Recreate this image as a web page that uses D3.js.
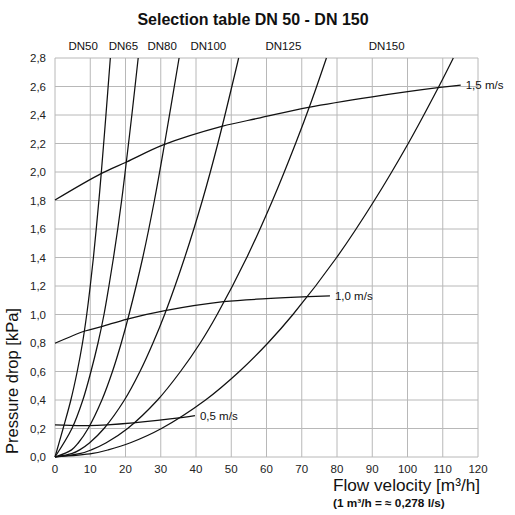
<!DOCTYPE html>
<html>
<head>
<meta charset="utf-8">
<script src="https://cdn.jsdelivr.net/npm/d3@7"></script>
<style>
  body { margin: 0; background: #fff; }
  svg { display: block; font-family: "Liberation Sans", Arial, sans-serif; }
  .grid line { stroke: #b8b8b8; stroke-width: 1; }
  .curve { fill: none; stroke: #111; stroke-width: 1.25; }
  .tick-label { font-size: 11.5px; fill: #222; }
</style>
</head>
<body>
<div id="chart"></div>
<script>
const WIDTH = 515,
  HEIGHT = 515,
  MARGIN = { top: 58, right: 37, bottom: 58, left: 55 };

// pressure drop curves per pipe size, points [flow m3/h, kPa]
const dn50 = [[0, 0], [2.3, 0.2], [4.5, 0.4], [6.3, 0.6], [7.8, 0.8], [9.0, 1.0], [10.0, 1.2], [10.9, 1.4], [11.7, 1.6], [12.45, 1.8], [13.15, 2.0], [14.45, 2.4], [15.7, 2.8]];
const dn65 = [[0, 0], [4.8, 0.2], [7.9, 0.4], [10.2, 0.6], [12.2, 0.8], [13.9, 1.0], [15.3, 1.2], [16.6, 1.4], [17.8, 1.6], [18.9, 1.8], [19.9, 2.0], [21.8, 2.4], [23.6, 2.8]];
const dn80 = [[0, 0], [4.7, 0.05], [6.65, 0.1], [9.4, 0.2], [13.3, 0.4], [16.3, 0.6], [18.8, 0.8], [21.0, 1.0], [24.9, 1.4], [28.2, 1.8], [31.1, 2.2], [35.2, 2.8]];
const dn100 = [[0, 0], [4.9, 0.025], [7.0, 0.05], [9.85, 0.1], [13.9, 0.2], [19.7, 0.4], [24.1, 0.6], [27.8, 0.8], [31.1, 1.0], [36.8, 1.4], [41.8, 1.8], [46.2, 2.2], [52.1, 2.8]];
const dn125 = [[0, 0], [7.3, 0.025], [10.3, 0.05], [14.55, 0.1], [20.6, 0.2], [29.1, 0.4], [35.6, 0.6], [41.2, 0.8], [46.0, 1.0], [54.4, 1.4], [61.7, 1.8], [68.25, 2.2], [72.8, 2.5], [77.0, 2.8]];
const dn150 = [[0, 0], [10.7, 0.025], [15.1, 0.05], [21.4, 0.1], [30.2, 0.2], [42.7, 0.4], [52.3, 0.6], [60.4, 0.8], [67.5, 1.0], [79.9, 1.4], [90.6, 1.8], [100.2, 2.2], [108.9, 2.6], [113.0, 2.8]];

// flow speed lines
const v05 = [[0, 0.225], [9.5, 0.22], [22.2, 0.24], [36.4, 0.278], [39.7, 0.29]];
const v10 = [[0, 0.798], [8.5, 0.884], [13.2, 0.915], [20.5, 0.968], [31.2, 1.027], [47.8, 1.09], [60, 1.111], [71.9, 1.125], [78, 1.13]];
const v15 = [[0, 1.803], [13.2, 1.99], [20.3, 2.07], [30.7, 2.19], [47.3, 2.32], [58.2, 2.38], [71.9, 2.454], [90, 2.528], [109.2, 2.594], [115.1, 2.61]];

const dnNames = ["DN50", "DN65", "DN80", "DN100", "DN125", "DN150"];
const dnLabelFlow = [8, 19.4, 30.4, 43.5, 64.8, 94.1];
const speedNames = ["0,5 m/s", "1,0 m/s", "1,5 m/s"];

const xTicks = d3.range(0, 121, 10);
const yTicks = d3.range(0, 2.81, 0.2);

const svg = d3.select("#chart")
  .append("svg")
  .attr("width", WIDTH)
  .attr("height", HEIGHT);

const x = d3.scaleLinear().domain([0, 120]).range([MARGIN.left, WIDTH - MARGIN.right]);
const y = d3.scaleLinear().domain([0, 2.8]).range([HEIGHT - MARGIN.bottom, MARGIN.top]);

// grid
const grid = svg.append("g").attr("class", "grid");
grid.selectAll(".vx")
  .data(xTicks)
  .enter()
  .append("line")
  .attr("x1", d => x(d)).attr("x2", d => x(d))
  .attr("y1", y(0)).attr("y2", y(2.8));
grid.selectAll(".hy")
  .data(yTicks)
  .enter()
  .append("line")
  .attr("x1", x(0)).attr("x2", x(120))
  .attr("y1", d => y(d)).attr("y2", d => y(d));

// tick labels
svg.selectAll(".xl")
  .data(xTicks)
  .enter()
  .append("text")
  .attr("class", "tick-label")
  .attr("x", d => x(d))
  .attr("y", y(0) + 16)
  .attr("text-anchor", "middle")
  .text(d => d);

svg.selectAll(".yl")
  .data(yTicks)
  .enter()
  .append("text")
  .attr("class", "tick-label")
  .attr("x", x(0) - 9)
  .attr("y", d => y(d))
  .attr("dy", "0.35em")
  .attr("text-anchor", "end")
  .text(d => d3.format(".1f")(d).replace(".", ","));

const line = d3.line()
  .x(d => x(d[0]))
  .y(d => y(d[1]))
  .curve(d3.curveCatmullRom.alpha(0.5));

const curves = [dn50, dn65, dn80, dn100, dn125, dn150, v05, v10, v15];
svg.selectAll(".curve")
  .data(curves)
  .enter()
  .append("path")
  .attr("class", "curve")
  .attr("d", line);

// pipe size labels across the top
svg.selectAll(".dn")
  .data(dnNames)
  .enter()
  .append("text")
  .attr("x", (d, i) => x(dnLabelFlow[i]))
  .attr("y", 50)
  .attr("text-anchor", "middle")
  .attr("font-size", 11.5)
  .attr("fill", "#111")
  .text(d => d);

// speed labels at line ends
const speedEnds = [v05, v10, v15].map(s => s[s.length - 1]);
svg.selectAll(".sp")
  .data(speedNames)
  .enter()
  .append("text")
  .attr("x", (d, i) => x(speedEnds[i][0]) + 5)
  .attr("y", (d, i) => y(speedEnds[i][1]))
  .attr("dy", "0.35em")
  .attr("font-size", 11.5)
  .attr("fill", "#111")
  .text(d => d);

// titles
svg.append("text")
  .attr("x", 253)
  .attr("y", 25)
  .attr("text-anchor", "middle")
  .attr("font-size", 16)
  .attr("font-weight", "bold")
  .attr("fill", "#111")
  .text("Selection table DN 50 - DN 150");

svg.append("text")
  .attr("transform", "translate(18,381) rotate(-90)")
  .attr("text-anchor", "middle")
  .attr("font-size", 16.5)
  .attr("fill", "#111")
  .text("Pressure drop [kPa]");

svg.append("text")
  .attr("x", 480)
  .attr("y", 491)
  .attr("text-anchor", "end")
  .attr("font-size", 17.2)
  .attr("fill", "#111")
  .text("Flow velocity [m³/h]");

svg.append("text")
  .attr("x", 333)
  .attr("y", 507)
  .attr("font-size", 11.8)
  .attr("font-weight", "bold")
  .attr("fill", "#111")
  .text("(1 m³/h = ≈ 0,278 l/s)");
</script>
</body>
</html>
